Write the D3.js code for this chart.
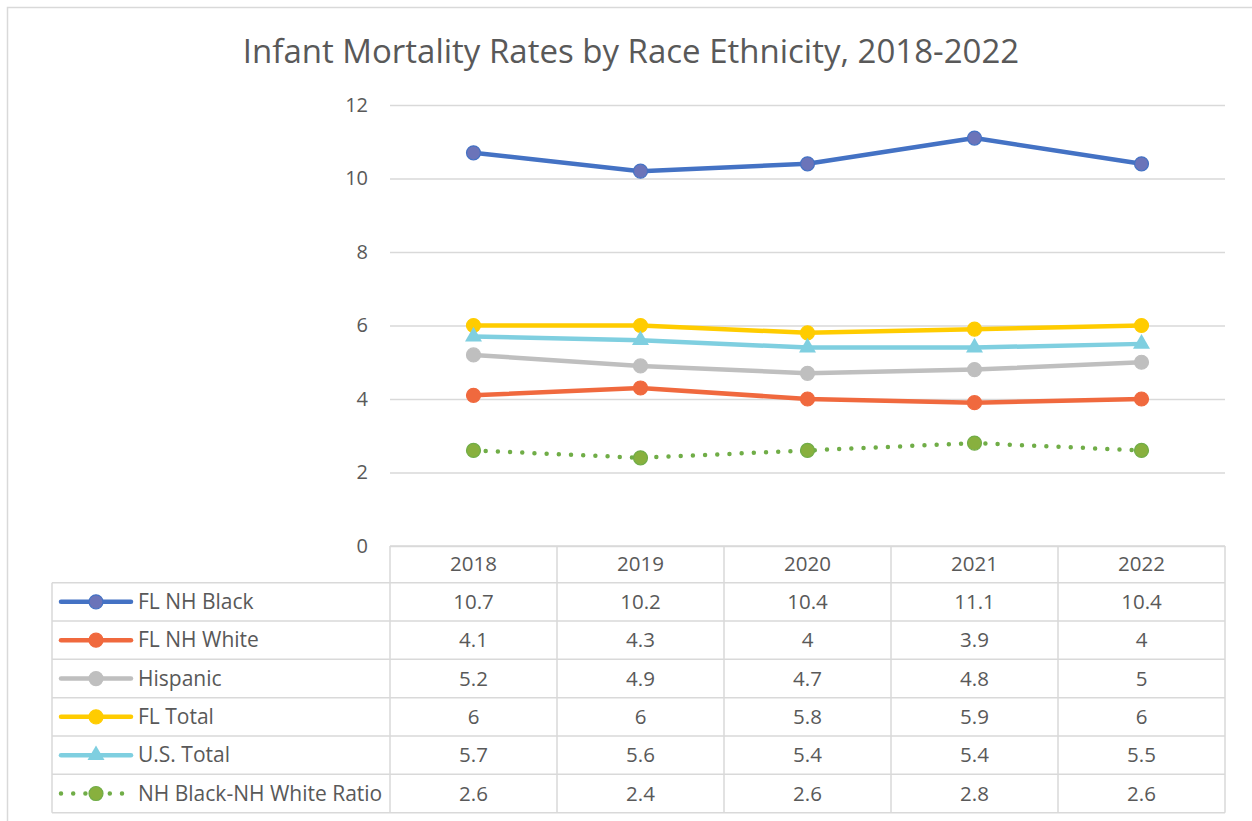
<!DOCTYPE html>
<html>
<head>
<meta charset="utf-8">
<script src="https://cdn.jsdelivr.net/npm/d3@7"></script>
<style>
  body { margin: 0; background: #fff; }
  text { font-family: "Open Sans", "Noto Sans", sans-serif; fill: #595959; }
</style>
</head>
<body>
<div id="chart"></div>
<script>
// data
var years = ['2018', '2019', '2020', '2021', '2022'];
var seriesNames = ['FL NH Black', 'FL NH White', 'Hispanic', 'FL Total', 'U.S. Total', 'NH Black-NH White Ratio'];
var flBlack = [10.7, 10.2, 10.4, 11.1, 10.4];
var flWhite = [4.1, 4.3, 4, 3.9, 4];
var hispanic = [5.2, 4.9, 4.7, 4.8, 5];
var flTotal = [6, 6, 5.8, 5.9, 6];
var usTotal = [5.7, 5.6, 5.4, 5.4, 5.5];
var ratio = [2.6, 2.4, 2.6, 2.8, 2.6];
var yTicks = [0, 2, 4, 6, 8, 10, 12];

var width = 1252, height = 821;
var plot = {left: 390, right: 1225, top: 105, bottom: 546};
var rowH = 38.33, headH = 36.7, legendLeft = 52;

// styles per series
var styles = [
  {line: '#4472C4', fill: '#6B74B9', stroke: '#4472C4', shape: 'circle'},
  {line: '#F0693E', fill: '#F0693E', stroke: '#F0693E', shape: 'circle'},
  {line: '#BFBFBF', fill: '#BFBFBF', stroke: '#BFBFBF', shape: 'circle'},
  {line: '#FFCC00', fill: '#FFCC00', stroke: '#FFCC00', shape: 'circle'},
  {line: '#7FCFE0', fill: '#7FCFE0', stroke: '#7FCFE0', shape: 'triangle'},
  {line: '#70AD47', fill: '#88B03E', stroke: '#70AD47', shape: 'circle', dotted: true}
];

var series = [flBlack, flWhite, hispanic, flTotal, usTotal, ratio].map(function(v, i) {
  return {name: seriesNames[i], values: v, style: styles[i]};
});

var svg = d3.select('#chart').append('svg')
  .attr('width', width)
  .attr('height', height);

// outer chart border
svg.append('path')
  .attr('d', 'M7.5,' + height + 'V7.5H' + width)
  .attr('fill', 'none')
  .attr('stroke', '#D9D9D9')
  .attr('stroke-width', 1.5);

// title
svg.append('text')
  .attr('x', 631)
  .attr('y', 63)
  .attr('text-anchor', 'middle')
  .attr('font-size', 33)
  .text('Infant Mortality Rates by Race Ethnicity, 2018-2022');

var xScale = d3.scaleBand()
  .domain(years)
  .range([plot.left, plot.right])
  .padding(0);

var yScale = d3.scaleLinear()
  .domain([0, 12])
  .range([plot.bottom, plot.top]);

// gridlines + y labels
var yAxis = svg.append('g')
  .attr('transform', 'translate(' + plot.left + ',0)')
  .call(d3.axisLeft(yScale).tickValues(yTicks).tickSize(-(plot.right - plot.left)).tickPadding(22));
yAxis.select('.domain').remove();
yAxis.selectAll('.tick line').attr('stroke', '#D9D9D9').attr('stroke-width', 1.5);
yAxis.selectAll('.tick text')
  .attr('font-size', 20)
  .attr('fill', '#595959')
  .attr('font-family', '"Open Sans", sans-serif');

// data table
var table = svg.append('g').classed('table', true);
var tableBottom = plot.bottom + headH + rowH * series.length;
var gridColor = '#D9D9D9';

// header row and column lines
table.selectAll('.colLine')
  .data(years.concat(['end']))
  .enter()
  .append('line')
  .attr('x1', function(d, i) { return plot.left + i * xScale.bandwidth(); })
  .attr('x2', function(d, i) { return plot.left + i * xScale.bandwidth(); })
  .attr('y1', plot.bottom)
  .attr('y2', tableBottom)
  .attr('stroke', gridColor)
  .attr('stroke-width', 1.5);

table.append('line')
  .attr('x1', plot.left).attr('x2', plot.right)
  .attr('y1', plot.bottom).attr('y2', plot.bottom)
  .attr('stroke', gridColor).attr('stroke-width', 1.5);

table.selectAll('.rowLine')
  .data(d3.range(series.length + 1))
  .enter()
  .append('line')
  .attr('x1', legendLeft)
  .attr('x2', plot.right)
  .attr('y1', function(d) { return plot.bottom + headH + d * rowH; })
  .attr('y2', function(d) { return plot.bottom + headH + d * rowH; })
  .attr('stroke', gridColor)
  .attr('stroke-width', 1.5);

table.append('line')
  .attr('x1', legendLeft).attr('x2', legendLeft)
  .attr('y1', plot.bottom + headH).attr('y2', tableBottom)
  .attr('stroke', gridColor).attr('stroke-width', 1.5);

table.selectAll('.yearLabel')
  .data(years)
  .enter()
  .append('text')
  .attr('x', function(d) { return xScale(d) + xScale.bandwidth() / 2; })
  .attr('y', plot.bottom + headH / 2 + 7)
  .attr('text-anchor', 'middle')
  .attr('font-size', 20.5)
  .text(function(d) { return d; });

function drawMarker(sel, st, x, y) {
  if (st.shape === 'triangle') {
    sel.append('path')
      .attr('d', d3.symbol().type(d3.symbolTriangle).size(125)())
      .attr('transform', 'translate(' + x + ',' + y + ')')
      .attr('fill', st.fill);
  } else {
    sel.append('circle')
      .attr('cx', x).attr('cy', y).attr('r', 7)
      .attr('fill', st.fill)
      .attr('stroke', st.stroke)
      .attr('stroke-width', 1.2);
  }
}

series.forEach(function(s, i) {
  var cy = plot.bottom + headH + i * rowH + rowH / 2;
  var key = table.append('g');
  var keyLine = key.append('line')
    .attr('x1', 61).attr('x2', 131)
    .attr('y1', cy).attr('y2', cy)
    .attr('stroke', s.style.line)
    .attr('stroke-width', 4.5)
    .attr('stroke-linecap', 'round');
  if (s.style.dotted) keyLine.attr('stroke-dasharray', '0 12.2');
  drawMarker(key, s.style, 96, cy);
  key.append('text')
    .attr('x', 138)
    .attr('y', cy + 7)
    .attr('font-size', 21)
    .text(s.name);

  table.selectAll('.val' + i)
    .data(s.values)
    .enter()
    .append('text')
    .attr('x', function(d, j) { return xScale(years[j]) + xScale.bandwidth() / 2; })
    .attr('y', cy + 7)
    .attr('text-anchor', 'middle')
    .attr('font-size', 20.5)
    .text(function(d) { return d; });
});

// lines and markers
var line = d3.line()
  .x(function(d, j) { return xScale(years[j]) + xScale.bandwidth() / 2; })
  .y(function(d) { return yScale(d); });

var lines = svg.append('g').classed('lineGroup', true);
series.forEach(function(s) {
  var p = lines.append('path')
    .datum(s.values)
    .attr('d', line)
    .attr('fill', 'none')
    .attr('stroke', s.style.line)
    .attr('stroke-width', 4.5)
    .attr('stroke-linecap', 'round')
    .attr('stroke-linejoin', 'round');
  if (s.style.dotted) p.attr('stroke-dasharray', '0 12.2');
  s.values.forEach(function(v, j) {
    drawMarker(lines, s.style, xScale(years[j]) + xScale.bandwidth() / 2, yScale(v));
  });
});
</script>
</body>
</html>
